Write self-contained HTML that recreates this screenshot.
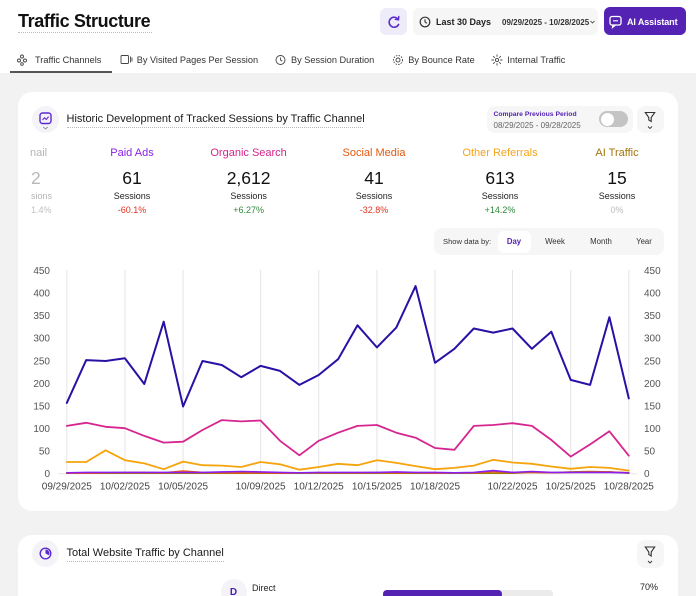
<!DOCTYPE html>
<html><head><meta charset="utf-8"><style>
*{margin:0;padding:0;box-sizing:border-box}
html,body{width:696px;height:596px;overflow:hidden}
body{background:#f2f2f2;font-family:"Liberation Sans",sans-serif;color:#222;position:relative}
.a{position:absolute;white-space:nowrap}
.hdr{position:absolute;left:0;top:0;width:696px;height:73px;background:#fff}
.card{position:absolute;background:#fff;border-radius:14px}
.col{position:absolute;width:140px;text-align:center}
.lab{position:absolute;left:0;width:140px;top:146px;height:14px;line-height:14px;font-size:11px}
.val{position:absolute;left:0;width:140px;top:168px;height:20px;line-height:20px;font-size:17.5px;color:#111}
.ses{position:absolute;left:0;width:140px;top:190px;height:12px;line-height:12px;font-size:9px;color:#222}
.pct{position:absolute;left:0;width:140px;top:204px;height:12px;line-height:12px;font-size:9px}
.tab{position:absolute;top:54px;height:12px;line-height:12px;font-size:9.2px;color:#333;white-space:nowrap}
</style></head><body>
<div class="hdr"></div>
<div class="a" style="left:18px;top:11.6px;height:18px;line-height:18px;font-size:18px;font-weight:bold;letter-spacing:-0.4px;color:#111">Traffic Structure</div>
<div class="a" style="left:18px;top:32px;width:134px;border-top:1px dotted #bbb"></div>

<!-- top buttons -->
<div class="a" style="left:380px;top:8px;width:27px;height:27px;background:#efecfa;border-radius:6px"></div>
<div class="a" style="left:413px;top:8px;width:185px;height:27px;background:#f6f6f6;border-radius:6px"></div>
<div class="a" style="left:436px;top:16px;height:12px;line-height:12px;font-size:9px;font-weight:bold;color:#222">Last 30 Days</div>
<div class="a" style="left:502px;top:16.5px;height:11px;line-height:11px;font-size:8px;font-weight:bold;color:#333">09/29/2025 - 10/28/2025</div>
<div class="a" style="left:604px;top:7px;width:82px;height:28px;background:#5423b3;border-radius:6px"></div>
<div class="a" style="left:627px;top:15.5px;height:12px;line-height:12px;font-size:9px;font-weight:bold;color:#fff;letter-spacing:-0.1px">AI Assistant</div>

<!-- tabs -->
<div class="tab" style="left:35px">Traffic Channels</div>
<div class="tab" style="left:136.7px">By Visited Pages Per Session</div>
<div class="tab" style="left:291px">By Session Duration</div>
<div class="tab" style="left:408.3px">By Bounce Rate</div>
<div class="tab" style="left:507.3px">Internal Traffic</div>
<div class="a" style="left:10px;top:70.5px;width:102px;height:2px;background:#555"></div>

<!-- card 1 -->
<div class="card" style="left:18px;top:92px;width:660px;height:419px"></div>
<div class="a" style="left:32px;top:106px;width:27px;height:27px;border-radius:50%;background:#f4f3f7"></div>
<div class="a" style="left:66.5px;top:112.5px;height:13px;line-height:13px;font-size:11px;color:#1a1a1a">Historic Development of Tracked Sessions by Traffic Channel</div>
<div class="a" style="left:66.5px;top:126.5px;width:296px;border-top:1px dotted #bbb"></div>
<div class="a" style="left:487px;top:106px;width:146px;height:27px;background:#f6f6f6;border-radius:8px"></div>
<div class="a" style="left:493.5px;top:110px;height:9px;line-height:9px;font-size:6.8px;font-weight:bold;color:#5423b3">Compare Previous Period</div>
<div class="a" style="left:493.5px;top:121px;height:9px;line-height:9px;font-size:8px;color:#666">08/29/2025 - 09/28/2025</div>
<div class="a" style="left:599px;top:111px;width:29px;height:16px;background:#c4c4c4;border-radius:8px"></div>
<div class="a" style="left:600.5px;top:112.5px;width:13px;height:13px;background:#fff;border-radius:50%"></div>
<div class="a" style="left:637px;top:106px;width:27px;height:27px;background:#f6f6f6;border-radius:8px"></div>

<!-- metrics -->
<div class="a" style="left:30px;top:146px;height:14px;line-height:14px;font-size:11px;color:#b3b3b3">nail</div>
<div class="a" style="left:31px;top:168px;height:20px;line-height:20px;font-size:17.5px;color:#b8b8b8">2</div>
<div class="a" style="left:31px;top:190px;height:12px;line-height:12px;font-size:9px;color:#b3b3b3">sions</div>
<div class="a" style="left:31px;top:204px;height:12px;line-height:12px;font-size:9px;color:#c0c0c0">1.4%</div>

<div class="col" style="left:62px;top:0">
 <div class="lab" style="color:#8a1fe6">Paid Ads</div><div class="val">61</div><div class="ses">Sessions</div><div class="pct" style="color:#e0321e">-60.1%</div>
</div>
<div class="col" style="left:178.6px;top:0">
 <div class="lab" style="color:#d4248c">Organic Search</div><div class="val">2,612</div><div class="ses">Sessions</div><div class="pct" style="color:#2e8a3a">+6.27%</div>
</div>
<div class="col" style="left:304px;top:0">
 <div class="lab" style="color:#e3590f">Social Media</div><div class="val">41</div><div class="ses">Sessions</div><div class="pct" style="color:#e0321e">-32.8%</div>
</div>
<div class="col" style="left:430px;top:0">
 <div class="lab" style="color:#f5a51c">Other Referrals</div><div class="val">613</div><div class="ses">Sessions</div><div class="pct" style="color:#2e8a3a">+14.2%</div>
</div>
<div class="col" style="left:547px;top:0">
 <div class="lab" style="color:#a3730a">AI Traffic</div><div class="val">15</div><div class="ses">Sessions</div><div class="pct" style="color:#bbb">0%</div>
</div>

<!-- show data by -->
<div class="a" style="left:434px;top:228px;width:230px;height:27px;background:#f6f6f6;border-radius:8px"></div>
<div class="a" style="left:443px;top:237px;height:10px;line-height:10px;font-size:7.6px;color:#333">Show data by:</div>
<div class="a" style="left:498px;top:231px;width:33px;height:22px;background:#fff;border-radius:6px"></div>
<div class="a" style="left:494px;top:237px;width:40px;text-align:center;height:10px;line-height:10px;font-size:7.8px;font-weight:bold;color:#5423b3">Day</div>
<div class="a" style="left:535px;top:237px;width:40px;text-align:center;height:10px;line-height:10px;font-size:7.8px;color:#333">Week</div>
<div class="a" style="left:581px;top:237px;width:40px;text-align:center;height:10px;line-height:10px;font-size:7.8px;color:#333">Month</div>
<div class="a" style="left:624px;top:237px;width:40px;text-align:center;height:10px;line-height:10px;font-size:7.8px;color:#333">Year</div>

<!-- card 2 -->
<div class="card" style="left:18px;top:535px;width:660px;height:90px"></div>
<div class="a" style="left:32px;top:540px;width:27px;height:27px;border-radius:50%;background:#f4f3f7"></div>
<div class="a" style="left:66.5px;top:546.5px;height:13px;line-height:13px;font-size:11px;color:#1a1a1a">Total Website Traffic by Channel</div>
<div class="a" style="left:66.5px;top:560.5px;width:157px;border-top:1px dotted #bbb"></div>
<div class="a" style="left:637px;top:540px;width:27px;height:28px;background:#f6f6f6;border-radius:8px"></div>
<div class="a" style="left:220.5px;top:579px;width:26px;height:26px;border-radius:50%;background:#f4f3f7"></div>
<div class="a" style="left:220.5px;top:587px;width:26px;text-align:center;height:12px;line-height:12px;font-size:10px;font-weight:bold;color:#4a1fb0">D</div>
<div class="a" style="left:252px;top:582.5px;height:11px;line-height:11px;font-size:9px;color:#222">Direct</div>
<div class="a" style="left:382.5px;top:590px;width:170px;height:9px;background:#ebebeb;border-radius:4px"></div>
<div class="a" style="left:382.5px;top:590px;width:119px;height:9px;background:#5423b3;border-radius:4px"></div>
<div class="a" style="left:640px;top:581.5px;height:11px;line-height:11px;font-size:9px;color:#222">70%</div>

<svg class="a" style="left:0;top:0" width="696" height="596" viewBox="0 0 696 596">
 <!-- header icons -->
 <path d="M398.2 19.3 A5 5 0 1 0 398.6 24.5" fill="none" stroke="#5b2bd0" stroke-width="1.6" stroke-linecap="round"/>
 <path d="M398.8 16.5 L398.5 19.8 L395.3 19.3" fill="none" stroke="#5b2bd0" stroke-width="1.4" stroke-linecap="round"/>
 <circle cx="425" cy="22" r="4.8" fill="none" stroke="#333" stroke-width="1.2"/>
 <path d="M425 19.3 V22 L427 23.3" fill="none" stroke="#333" stroke-width="1.1"/>
 <path d="M590.5 21 L592.5 23 L594.5 21" fill="none" stroke="#555" stroke-width="0.9"/>
 <rect x="610" y="16.5" width="11" height="8.5" rx="2" fill="none" stroke="#fff" stroke-width="1.3"/>
 <path d="M613 25 L612.5 27.5 L615.5 25" fill="none" stroke="#fff" stroke-width="1.2"/>
 <line x1="613" y1="20.8" x2="618" y2="20.8" stroke="#fff" stroke-width="1.1"/>
 <!-- tab icons -->
 <g fill="none" stroke="#444" stroke-width="0.9">
  <circle cx="22" cy="56.5" r="1.5"/><circle cx="19" cy="60.5" r="1.5"/><circle cx="25" cy="60.5" r="1.5"/><circle cx="22" cy="64" r="1.3"/>
  <rect x="121" y="55.5" width="7.5" height="8" rx="1"/><line x1="130.5" y1="56.5" x2="130.5" y2="62.5"/><line x1="132" y1="57.5" x2="132" y2="61.5"/>
  <circle cx="280.5" cy="60" r="4.5"/><path d="M280.5 57.5 V60 L282.3 61.3"/>
  <circle cx="398" cy="60" r="4.5" stroke-dasharray="1.5 1.2"/><circle cx="398" cy="60" r="2"/>
  <circle cx="497" cy="60" r="1.6"/><path d="M497 54.5 V56.8 M497 63.2 V65.5 M491.5 60 H493.8 M500.2 60 H502.5 M493.2 56.2 L494.8 57.8 M499.2 62.2 L500.8 63.8 M493.2 63.8 L494.8 62.2 M499.2 57.8 L500.8 56.2"/>
 </g>
 <!-- card1 header icon -->
 <rect x="40" y="113" width="11" height="10.5" rx="2.5" fill="none" stroke="#5b2bd0" stroke-width="1.4"/>
 <path d="M42.5 120 L44.5 117.8 L46.3 119.5 L48.6 116.6" fill="none" stroke="#5b2bd0" stroke-width="1.1"/>
 <path d="M43.3 127 L45.5 129 L47.7 127" fill="none" stroke="#777" stroke-width="0.8"/>
 <!-- filter icons -->
 <g fill="none" stroke="#333" stroke-width="1.1">
  <path d="M645.3 112.5 H654.7 L651.2 117.5 V121.5 L648.8 120 V117.5 Z"/>
  <path d="M648 126.5 L650 128.5 L652 126.5" stroke-width="0.9"/>
  <path d="M645.3 547 H654.7 L651.2 552 V556 L648.8 554.5 V552 Z"/>
  <path d="M648 561 L650 563 L652 561" stroke-width="0.9"/>
 </g>
 <!-- card2 icon -->
 <circle cx="45.5" cy="553.5" r="5.3" fill="none" stroke="#5b2bd0" stroke-width="1.4"/>
 <path d="M45.5 553.5 V549.5 A4 4 0 0 1 49 555.3 Z" fill="#5b2bd0"/>

 <!-- chart grid -->
 <g stroke="#e5e5e5" stroke-width="1">
  <line x1="66.8" y1="270" x2="66.8" y2="473.3"/>
  <line x1="124.9" y1="270" x2="124.9" y2="473.3"/>
  <line x1="183.1" y1="270" x2="183.1" y2="473.3"/>
  <line x1="260.6" y1="270" x2="260.6" y2="473.3"/>
  <line x1="318.7" y1="270" x2="318.7" y2="473.3"/>
  <line x1="376.9" y1="270" x2="376.9" y2="473.3"/>
  <line x1="435.0" y1="270" x2="435.0" y2="473.3"/>
  <line x1="512.5" y1="270" x2="512.5" y2="473.3"/>
  <line x1="570.7" y1="270" x2="570.7" y2="473.3"/>
  <line x1="628.8" y1="270" x2="628.8" y2="473.3"/>
  <line x1="58" y1="473.8" x2="637" y2="473.8"/>
 </g>
 <g font-family="Liberation Sans, sans-serif" font-size="10" fill="#555">
  <g text-anchor="end">
   <text x="50" y="477">0</text><text x="50" y="454.5">50</text><text x="50" y="432">100</text><text x="50" y="409.4">150</text><text x="50" y="386.8">200</text><text x="50" y="364.3">250</text><text x="50" y="341.7">300</text><text x="50" y="319.2">350</text><text x="50" y="296.6">400</text><text x="50" y="274.1">450</text>
  </g>
  <g>
   <text x="644" y="477">0</text><text x="644" y="454.5">50</text><text x="644" y="432">100</text><text x="644" y="409.4">150</text><text x="644" y="386.8">200</text><text x="644" y="364.3">250</text><text x="644" y="341.7">300</text><text x="644" y="319.2">350</text><text x="644" y="296.6">400</text><text x="644" y="274.1">450</text>
  </g>
  <g text-anchor="middle" fill="#444">
   <text x="66.8" y="489.5">09/29/2025</text><text x="124.9" y="489.5">10/02/2025</text><text x="183.1" y="489.5">10/05/2025</text><text x="260.6" y="489.5">10/09/2025</text><text x="318.7" y="489.5">10/12/2025</text><text x="376.9" y="489.5">10/15/2025</text><text x="435.0" y="489.5">10/18/2025</text><text x="512.5" y="489.5">10/22/2025</text><text x="570.7" y="489.5">10/25/2025</text><text x="628.8" y="489.5">10/28/2025</text>
  </g>
 </g>
 <g fill="none" stroke-linejoin="round" stroke-linecap="round">
  <polyline stroke="#f5a40c" stroke-width="1.8" points="66.8,462.0 86.2,462.0 105.6,450.3 124.9,460.2 144.3,463.4 163.7,469.2 183.1,461.6 202.5,465.2 221.8,465.6 241.2,467.0 260.6,462.0 280.0,464.3 299.4,469.7 318.7,467.0 338.1,463.8 357.5,465.2 376.9,460.2 396.3,462.9 415.6,466.1 435.0,469.2 454.4,467.9 473.8,465.6 493.2,459.8 512.5,462.5 531.9,463.8 551.3,466.5 570.7,468.8 590.1,467.0 609.4,467.9 628.8,470.6"/>
  <polyline stroke="#d6258f" stroke-width="1.8" points="66.8,425.9 86.2,422.8 105.6,426.8 124.9,428.2 144.3,435.9 163.7,442.6 183.1,441.7 202.5,430.0 221.8,420.1 241.2,421.4 260.6,420.5 280.0,440.8 299.4,455.3 318.7,440.8 338.1,432.7 357.5,425.9 376.9,425.0 396.3,432.7 415.6,437.7 435.0,448.0 454.4,449.8 473.8,425.9 493.2,425.0 512.5,423.2 531.9,425.9 551.3,439.9 570.7,456.6 590.1,444.4 609.4,431.3 628.8,455.7"/>
  <polyline stroke="#2a10a5" stroke-width="2" points="66.8,402.9 86.2,360.1 105.6,361.0 124.9,358.3 144.3,384.0 163.7,321.7 183.1,406.5 202.5,361.0 221.8,365.0 241.2,377.2 260.6,365.9 280.0,370.9 299.4,384.9 318.7,375.0 338.1,359.2 357.5,325.3 376.9,347.4 396.3,327.6 415.6,286.1 435.0,362.8 454.4,348.8 473.8,328.5 493.2,332.6 512.5,328.5 531.9,348.8 551.3,331.7 570.7,379.9 590.1,384.9 609.4,317.2 628.8,398.4"/>
  <polyline stroke="#a87b06" stroke-width="1.5" points="66.8,473.3 512.5,473.3 531.9,472.4 551.3,472.8 570.7,471.9 590.1,471.5 609.4,471.9 628.8,473.3"/>
  <polyline stroke="#e8590c" stroke-width="1.5" points="66.8,473.3 86.2,473.3 105.6,472.8 124.9,472.4 144.3,472.4 163.7,472.8 183.1,471.0 202.5,472.4 221.8,472.8 241.2,472.8 260.6,472.8 280.0,473.3 299.4,472.8 318.7,472.8 338.1,472.8 357.5,472.8 376.9,472.4 396.3,472.8 415.6,472.8 435.0,473.3 454.4,472.8 473.8,472.8 493.2,471.5 512.5,472.4 531.9,472.4 551.3,472.8 570.7,472.4 590.1,471.9 609.4,471.9 628.8,472.8"/>
  <polyline stroke="#8a1ff0" stroke-width="1.6" points="66.8,472.8 86.2,472.4 105.6,472.4 124.9,472.4 144.3,472.4 163.7,472.4 183.1,472.4 202.5,472.4 221.8,471.9 241.2,471.5 260.6,471.9 280.0,472.4 299.4,472.8 318.7,472.4 338.1,472.4 357.5,472.4 376.9,472.4 396.3,471.9 415.6,472.4 435.0,472.4 454.4,472.8 473.8,472.4 493.2,470.6 512.5,472.4 531.9,471.5 551.3,472.4 570.7,472.4 590.1,472.4 609.4,472.4 628.8,472.8"/>
 </g>
</svg>
</body></html>
